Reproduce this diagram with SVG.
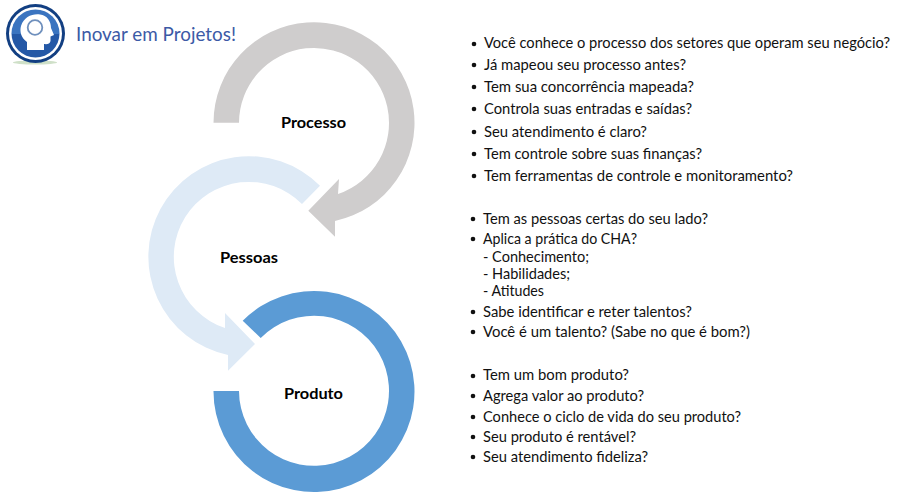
<svg xmlns="http://www.w3.org/2000/svg" width="898" height="499" viewBox="0 0 898 499">
<style>
.li{font-family:"Lato","Open Sans","Liberation Sans",sans-serif;font-size:14.4px;fill:#111}
.lb{font-family:"Lato","Open Sans","Liberation Sans",sans-serif;font-size:15.500px;font-weight:700;fill:#000}
.b{fill:#111}
</style>
<defs><linearGradient id="lg" x1="0" y1="0" x2="0" y2="1"><stop offset="0" stop-color="#3a74c0"/><stop offset="0.5" stop-color="#3a74c0"/><stop offset="0.52" stop-color="#2458a6"/><stop offset="1" stop-color="#2458a6"/></linearGradient></defs>
<rect width="898" height="499" fill="#fff"/>
<g id="logo">
<ellipse cx="35" cy="62.500" rx="22" ry="2" fill="#cfe0c8"/>
<circle cx="35.500" cy="33.500" r="29.500" fill="#123f82"/>
<circle cx="35.500" cy="33.500" r="26.500" fill="#fff"/>
<circle cx="35.500" cy="33.500" r="24" fill="url(#lg)"/>
<path d="M27 50V42C21 38 19.500 31 21 26C24 17 32 13.500 40 14.500C47 15.500 51 21 51 28L54 35L50.500 36.500V41C50 44 47 44.500 44 44V50Z" fill="#fff"/>
<circle cx="35" cy="27.500" r="7.300" fill="#fff" stroke="#6f90bd" stroke-width="1.800"/>
</g>
<text x="76" y="41" font-family="Lato,'Open Sans',sans-serif" font-size="19" fill="#3c5aa6" textLength="160" lengthAdjust="spacingAndGlyphs">Inovar em Projetos!</text>
<g id="processo">
<path d="M213.500 122.700A100.500 100.500 0 1 1 335 221L335 236.700L308.300 210.700L339 179L338 194A75 75 0 1 0 239 122.700Z" fill="#cfcdcd"/>
<text class="lb" x="281" y="128" textLength="65" lengthAdjust="spacingAndGlyphs">Processo</text>
</g>
<g id="pessoas">
<path d="M320 185.700A100.500 100.500 0 1 0 228 355L228 370.700L255 344L225 313L225 328A75 75 0 1 1 302 204Z" fill="#deeaf6"/>
<text class="lb" x="220" y="263" textLength="58" lengthAdjust="spacingAndGlyphs">Pessoas</text>
</g>
<g id="produto">
<path d="M242.700 320.700A100.500 100.500 0 1 1 213.500 391L239 391A75 75 0 1 0 260.700 338Z" fill="#5b9bd5"/>
<text class="lb" x="284" y="399" textLength="59" lengthAdjust="spacingAndGlyphs">Produto</text>
</g>
<g id="lista-processo">
<circle class="b" cx="474" cy="44" r="2.300"/><text class="li" x="484" y="48" textLength="406" lengthAdjust="spacingAndGlyphs">Você conhece o processo dos setores que operam seu negócio?</text>
<circle class="b" cx="474" cy="65" r="2.300"/><text class="li" x="484" y="70" textLength="202" lengthAdjust="spacingAndGlyphs">Já mapeou seu processo antes?</text>
<circle class="b" cx="474" cy="87" r="2.300"/><text class="li" x="484" y="92" textLength="210" lengthAdjust="spacingAndGlyphs">Tem sua concorrência mapeada?</text>
<circle class="b" cx="474" cy="109" r="2.300"/><text class="li" x="484" y="114" textLength="208" lengthAdjust="spacingAndGlyphs">Controla suas entradas e saídas?</text>
<circle class="b" cx="474" cy="132" r="2.300"/><text class="li" x="484" y="137" textLength="163" lengthAdjust="spacingAndGlyphs">Seu atendimento é claro?</text>
<circle class="b" cx="474" cy="154" r="2.300"/><text class="li" x="484" y="159" textLength="218" lengthAdjust="spacingAndGlyphs">Tem controle sobre suas finanças?</text>
<circle class="b" cx="474" cy="176" r="2.300"/><text class="li" x="484" y="181" textLength="309" lengthAdjust="spacingAndGlyphs">Tem ferramentas de controle e monitoramento?</text>
</g>
<g id="lista-pessoas">
<circle class="b" cx="473" cy="219" r="2.300"/><text class="li" x="483" y="224" textLength="225" lengthAdjust="spacingAndGlyphs">Tem as pessoas certas do seu lado?</text>
<circle class="b" cx="473" cy="239" r="2.300"/><text class="li" x="483" y="244" textLength="154" lengthAdjust="spacingAndGlyphs">Aplica a prática do CHA?</text>
<text class="li" x="483" y="262" textLength="106" lengthAdjust="spacingAndGlyphs">- Conhecimento;</text>
<text class="li" x="483" y="279" textLength="87" lengthAdjust="spacingAndGlyphs">- Habilidades;</text>
<text class="li" x="483" y="296" textLength="61" lengthAdjust="spacingAndGlyphs">- Atitudes</text>
<circle class="b" cx="473" cy="312" r="2.300"/><text class="li" x="483" y="317" textLength="209" lengthAdjust="spacingAndGlyphs">Sabe identificar e reter talentos?</text>
<circle class="b" cx="473" cy="332" r="2.300"/><text class="li" x="483" y="337" textLength="267" lengthAdjust="spacingAndGlyphs">Você é um talento? (Sabe no que é bom?)</text>
</g>
<g id="lista-produto">
<circle class="b" cx="473" cy="376" r="2.300"/><text class="li" x="483" y="380" textLength="146" lengthAdjust="spacingAndGlyphs">Tem um bom produto?</text>
<circle class="b" cx="473" cy="396" r="2.300"/><text class="li" x="483" y="401" textLength="161" lengthAdjust="spacingAndGlyphs">Agrega valor ao produto?</text>
<circle class="b" cx="473" cy="417" r="2.300"/><text class="li" x="483" y="422" textLength="258" lengthAdjust="spacingAndGlyphs">Conhece o ciclo de vida do seu produto?</text>
<circle class="b" cx="473" cy="437" r="2.300"/><text class="li" x="483" y="442" textLength="153" lengthAdjust="spacingAndGlyphs">Seu produto é rentável?</text>
<circle class="b" cx="473" cy="457" r="2.300"/><text class="li" x="483" y="462" textLength="165" lengthAdjust="spacingAndGlyphs">Seu atendimento fideliza?</text>
</g>
</svg>
